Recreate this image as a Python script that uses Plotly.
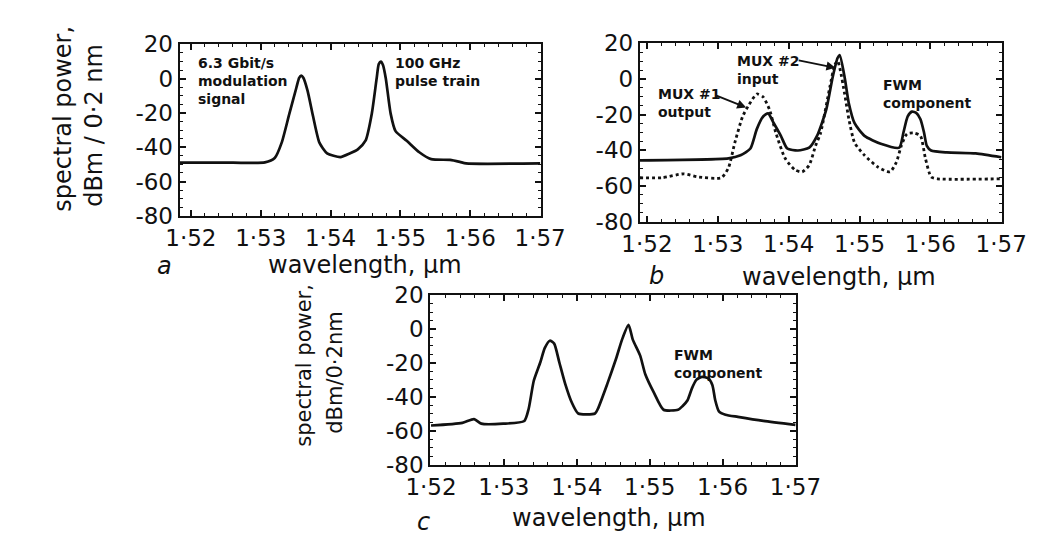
import plotly.graph_objects as go

# ---------------- data ----------------
# panel a : single spectrum
a_wl = [1.5184, 1.5260, 1.5306, 1.5320, 1.5330, 1.5341, 1.5351, 1.5355, 1.5358, 1.5361,
        1.5367, 1.5375, 1.5384, 1.5395, 1.5414, 1.5428, 1.5439, 1.5450, 1.5459, 1.5466,
        1.5469, 1.5472, 1.5475, 1.5479, 1.5486, 1.5493, 1.5509, 1.5527, 1.5544, 1.5571,
        1.5585, 1.5594, 1.5700]
a_pw = [-49.0, -49.0, -48.8, -46.3, -37.3, -20.4, -5.3, 0.5, 1.8, 0.5,
        -7.0, -22.1, -37.3, -43.5, -45.7, -43.5, -41.2, -36.2, -20.4, 0.3,
        8.5, 10.0, 8.0, 0.3, -20.4, -30.6, -36.2, -42.9, -46.9, -47.4,
        -48.5, -49.4, -49.4]

# panel b : solid spectrum
b_solid_wl = [1.5190, 1.5315, 1.5332, 1.5346, 1.5355, 1.5364, 1.5371, 1.5379, 1.5389, 1.5398,
              1.5413, 1.5429, 1.5440, 1.5453, 1.5462, 1.5469, 1.5472, 1.5479, 1.5485, 1.5493,
              1.5507, 1.5530, 1.5556, 1.5562, 1.5568, 1.5574, 1.5580, 1.5586, 1.5591, 1.5595,
              1.5601, 1.5623, 1.5664, 1.5700]
b_solid_pw = [-45.6, -44.5, -42.8, -39.0, -28.1, -21.0, -19.3, -24.8, -31.9, -39.0,
              -40.1, -38.5, -31.9, -17.2, 0.9, 11.8, 13.4, 0.9, -13.9, -24.8,
              -31.9, -36.3, -38.5, -30.0, -21.0, -18.3, -19.0, -22.6, -30.0, -37.5,
              -40.1, -41.2, -41.7, -43.9]

# panel b : dotted spectrum
b_dot_wl = [1.5190, 1.5221, 1.5252, 1.5271, 1.5305, 1.5315, 1.5324, 1.5335, 1.5344, 1.5355,
            1.5364, 1.5373, 1.5382, 1.5395, 1.5409, 1.5419, 1.5429, 1.5438, 1.5445, 1.5458,
            1.5465, 1.5469, 1.5473, 1.5479, 1.5485, 1.5493, 1.5507, 1.5526, 1.5543, 1.5552,
            1.5559, 1.5567, 1.5577, 1.5586, 1.5593, 1.5601, 1.5610, 1.5700]
b_dot_pw = [-55.4, -55.4, -53.2, -54.9, -55.4, -49.9, -35.7, -21.0, -14.4, -8.4,
            -10.1, -17.2, -30.3, -44.5, -51.0, -52.1, -48.3, -37.4, -30.3, -4.6,
            8.0, 10.2, 4.7, -8.4, -22.6, -35.7, -42.8, -49.4, -52.1, -46.7,
            -37.4, -30.8, -30.3, -31.9, -44.5, -54.9, -56.0, -56.0]

# panel c : single spectrum
c_wl = [1.5200, 1.5243, 1.5259, 1.5269, 1.5299, 1.5328, 1.5334, 1.5341, 1.5350, 1.5356,
        1.5363, 1.5369, 1.5376, 1.5384, 1.5393, 1.5402, 1.5425, 1.5429, 1.5442, 1.5454,
        1.5462, 1.5471, 1.5477, 1.5487, 1.5494, 1.5506, 1.5519, 1.5539, 1.5545, 1.5552,
        1.5558, 1.5564, 1.5572, 1.5580, 1.5586, 1.5590, 1.5595, 1.5604, 1.5621, 1.5656,
        1.5700]
c_pw = [-56.9, -55.3, -53.1, -55.8, -55.8, -54.2, -47.0, -30.5, -19.6, -11.3,
        -6.9, -8.6, -19.6, -32.2, -43.2, -49.8, -49.8, -47.0, -32.2, -17.4,
        -6.4, 2.4, -6.4, -15.7, -26.7, -37.7, -47.6, -47.6, -45.5, -42.0,
        -35.0, -30.0, -28.2, -29.0, -33.0, -42.0, -48.5, -50.5, -51.8, -54.2,
        -56.5]

x_ticks = [1.52, 1.53, 1.54, 1.55, 1.56, 1.57]
x_tick_text = ["1·52", "1·53", "1·54", "1·55", "1·56", "1·57"]
y_ticks = [20, 0, -20, -40, -60, -80]
y_tick_text = ["20", "0", "-20", "-40", "-60", "-80"]

# ---------------- figure ----------------
W, H = 1058, 536
INK = "#111111"
TICKFONT = dict(family="DejaVu Sans", size=23, color=INK)
LABFONT = dict(family="DejaVu Sans", size=14, color=INK)

def px_x(p):
    return p / W

def px_y(p):
    return 1 - p / H

fig = go.Figure()
line = dict(color=INK, width=2.7, shape="spline", smoothing=0.6)
fig.add_trace(go.Scatter(x=a_wl, y=a_pw, mode="lines", line=line, xaxis="x", yaxis="y"))
fig.add_trace(go.Scatter(x=b_solid_wl, y=b_solid_pw, mode="lines", line=line, xaxis="x2", yaxis="y2"))
fig.add_trace(go.Scatter(x=b_dot_wl, y=b_dot_pw, mode="lines",
                         line=dict(color=INK, width=2.8, dash="dot", shape="spline", smoothing=0.6),
                         xaxis="x2", yaxis="y2"))
fig.add_trace(go.Scatter(x=c_wl, y=c_pw, mode="lines", line=line, xaxis="x3", yaxis="y3"))

def xax(domain, rng, anchor):
    return dict(domain=domain, range=rng, anchor=anchor, tickvals=x_ticks, ticktext=x_tick_text,
                tickfont=TICKFONT, showline=True, linecolor=INK, linewidth=2.2, mirror="allticks",
                ticks="inside", ticklen=6, tickwidth=1.5, tickcolor=INK, showgrid=False,
                zeroline=False, fixedrange=True,
                minor=dict(ticks="inside", ticklen=3, tickwidth=1.2, tickcolor=INK,
                           dtick=0.002, tick0=1.52, showgrid=False))

def yax(domain, anchor):
    return dict(domain=domain, range=[-80.3, 20.3], anchor=anchor, tickvals=y_ticks,
                ticktext=y_tick_text, tickfont=TICKFONT, showline=True, linecolor=INK,
                linewidth=2.2, mirror="allticks", ticks="inside", ticklen=6, tickwidth=1.5,
                tickcolor=INK, showgrid=False, zeroline=False, fixedrange=True,
                minor=dict(ticks="inside", ticklen=3, tickwidth=1.2, tickcolor=INK,
                           dtick=5, showgrid=False))

fig.update_layout(
    width=W, height=H, margin=dict(l=0, r=0, t=0, b=0),
    paper_bgcolor="white", plot_bgcolor="white", showlegend=False,
    xaxis=xax([px_x(154), px_x(533)], [1.5184, 1.5701], "y"),
    yaxis=yax([px_y(206), px_y(25)], "x"),
    xaxis2=xax([px_x(637), px_x(1017)], [1.5190, 1.5701], "y2"),
    yaxis2=yax([px_y(212), px_y(24)], "x2"),
    xaxis3=xax([px_x(417), px_x(801)], [1.5199, 1.5701], "y3"),
    yaxis3=yax([px_y(467), px_y(288)], "x3"),
)

ann = []
# in-plot labels
ann.append(dict(x=1.5207, y=15.0, xref="x", yref="y", xanchor="left", yanchor="top", align="left",
                text="<b>6.3 Gbit/s<br>modulation<br>signal</b>", showarrow=False, font=LABFONT))
ann.append(dict(x=1.5489, y=15.0, xref="x", yref="y", xanchor="left", yanchor="top", align="left",
                text="<b>100 GHz<br>pulse train</b>", showarrow=False, font=LABFONT))
ann.append(dict(x=1.5324, y=16.0, xref="x2", yref="y2", xanchor="left", yanchor="top", align="left",
                text="<b>MUX #2<br>input</b>", showarrow=False, font=LABFONT))
ann.append(dict(x=1.5213, y=-2.5, xref="x2", yref="y2", xanchor="left", yanchor="top", align="left",
                text="<b>MUX #1<br>output</b>", showarrow=False, font=LABFONT))
ann.append(dict(x=1.5530, y=2.0, xref="x2", yref="y2", xanchor="left", yanchor="top", align="left",
                text="<b>FWM<br>component</b>", showarrow=False, font=LABFONT))
ann.append(dict(x=1.5530, y=-9.5, xref="x3", yref="y3", xanchor="left", yanchor="top", align="left",
                text="<b>FWM<br>component</b>", showarrow=False, font=LABFONT))
# arrows
ann.append(dict(x=1.5466, y=6.3, xref="x2", yref="y2", ax=1.5412, ay=10.7, axref="x2", ayref="y2",
                text="", showarrow=True, arrowhead=2, arrowsize=1, arrowwidth=1.8, arrowcolor=INK))
ann.append(dict(x=1.5340, y=-16.0, xref="x2", yref="y2", ax=1.5296, ay=-9.0, axref="x2", ayref="y2",
                text="", showarrow=True, arrowhead=2, arrowsize=1, arrowwidth=1.8, arrowcolor=INK))

TITLEFONT = dict(family="DejaVu Sans", size=24, color=INK)
# x titles and panel letters
for cx, cy, lx, ly, letter in [(348, 257, 138, 258, "a"), (846, 270, 654, 268, "b"),
                               (605, 522, 410, 527, "c")]:
    ann.append(dict(x=px_x(cx), y=px_y(cy), xref="paper", yref="paper", xanchor="center",
                    yanchor="middle", text="wavelength, µm", showarrow=False, font=TITLEFONT))
    ann.append(dict(x=px_x(lx), y=px_y(ly), xref="paper", yref="paper", xanchor="center",
                    yanchor="middle", text="<i>" + letter + "</i>", showarrow=False, font=TITLEFONT))
# y titles (each line separately, rotated)
for cx, cy, txt, size in [(32, 103, "spectral power,", 24), (64, 110, "dBm / 0·2 nm", 24),
                          (285, 362, "spectral power,", 21), (317, 370, "dBm/0·2nm", 21)]:
    ann.append(dict(x=px_x(cx), y=px_y(cy), xref="paper", yref="paper", xanchor="center",
                    yanchor="middle", text=txt, textangle=-90, showarrow=False,
                    font=dict(family="DejaVu Sans", size=size, color=INK)))
fig.update_layout(annotations=ann)

fig.write_html("out.html")
